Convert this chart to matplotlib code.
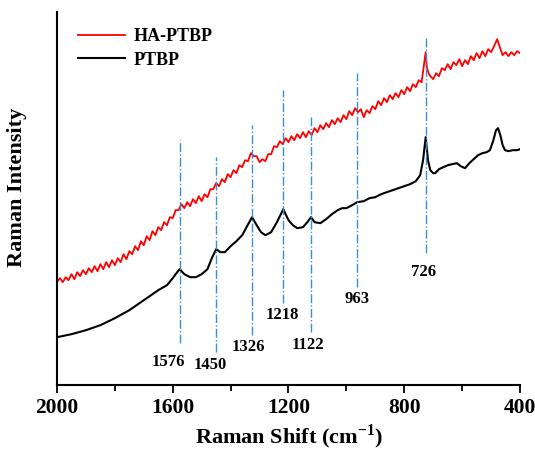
import numpy as np
import matplotlib
matplotlib.use('Agg')
import matplotlib.pyplot as plt

plt.rcParams['font.family'] = 'Liberation Serif'
plt.rcParams['font.weight'] = 'bold'
plt.rcParams['mathtext.fontset'] = 'custom'
plt.rcParams['mathtext.rm'] = 'Liberation Serif:bold'
plt.rcParams['mathtext.bf'] = 'Liberation Serif:bold'

# PTBP spectrum (black)
ptbp_shift = [2000, 1950, 1900, 1850, 1800, 1750, 1700, 1650, 1620, 1600, 1590, 1576,
              1560, 1540, 1520, 1500, 1480, 1465, 1450, 1435, 1420, 1400, 1380, 1360,
              1345, 1326, 1310, 1295, 1280, 1260, 1240, 1218, 1200, 1185, 1170, 1150,
              1135, 1122, 1110, 1090, 1070, 1050, 1030, 1015, 1000, 980, 963, 940, 920,
              900, 880, 860, 840, 820, 800, 780, 760, 745, 735, 726, 718, 710, 700, 693,
              680, 665, 649, 635, 618, 605, 590, 575, 560, 545, 530, 515, 504, 492, 483,
              476, 468, 460, 452, 440, 425, 410, 400]
ptbp_int = [48, 51, 55, 60, 67, 75, 85, 95, 100, 107, 111, 116,
            111, 108, 108, 111, 116, 127, 136, 133, 133, 139, 144, 150,
            158, 168, 160, 153, 150, 153, 163, 176, 165, 160, 157, 158,
            163, 168, 163, 162, 166, 171, 175, 177, 177, 180, 183, 184, 187,
            188, 191, 193, 195, 197, 199, 201, 204, 210, 225, 248, 225, 215, 212, 212,
            216, 218, 220, 221, 222, 219, 217, 222, 226, 230, 232, 233, 235, 245, 255,
            257, 250, 240, 235, 234, 235, 235, 236]

# HA-PTBP spectrum (red), noisy trace read point by point
ha_shift = [2000, 1990, 1980, 1970, 1960, 1950, 1940, 1930, 1920, 1910, 1900, 1890,
            1880, 1870, 1860, 1850, 1840, 1830, 1820, 1810, 1800, 1790, 1780, 1770,
            1760, 1750, 1740, 1730, 1720, 1710, 1700, 1690, 1680, 1670, 1660, 1650,
            1640, 1630, 1620, 1610, 1600, 1590, 1580, 1570, 1560, 1550, 1540, 1530,
            1520, 1510, 1500, 1490, 1480, 1470, 1460, 1450, 1440, 1430, 1420, 1410,
            1400, 1390, 1380, 1370, 1360, 1350, 1340, 1330, 1320, 1310, 1300, 1290,
            1280, 1270, 1260, 1250, 1240, 1230, 1220, 1210, 1200, 1190, 1180, 1170,
            1160, 1150, 1140, 1130, 1120, 1110, 1100, 1090, 1080, 1070, 1060, 1050,
            1040, 1030, 1020, 1010, 1000, 990, 980, 970, 960, 950, 940, 930,
            920, 910, 900, 890, 880, 870, 860, 850, 840, 830, 820, 810,
            800, 790, 780, 770, 760, 750, 740, 733, 726, 722, 716, 710,
            700, 690, 680, 670, 660, 650, 640, 630, 620, 610, 600, 590,
            580, 570, 560, 550, 540, 530, 520, 510, 500, 488, 479, 470,
            460, 450, 440, 430, 420, 410, 400]
ha_int = [103, 107, 103, 108, 105, 111, 106, 113, 109, 115, 111, 117,
          113, 119, 114, 121, 116, 123, 118, 125, 120, 127, 123, 131,
          126, 134, 131, 139, 135, 144, 140, 149, 145, 154, 150, 158,
          155, 163, 160, 168, 167, 175, 175, 181, 177, 183, 179, 186,
          182, 189, 184, 191, 188, 196, 196, 202, 199, 206, 203, 211,
          208, 215, 212, 220, 218, 225, 224, 232, 229, 229, 223, 226,
          224, 231, 231, 239, 238, 244, 241, 247, 243, 249, 245, 251,
          247, 253, 248, 254, 250, 257, 253, 260, 256, 262, 258, 265,
          261, 267, 263, 270, 266, 274, 270, 277, 273, 276, 268, 275,
          272, 279, 276, 284, 280, 287, 283, 290, 286, 292, 288, 295,
          291, 298, 294, 301, 298, 305, 303, 318, 333, 318, 312, 309,
          306, 312, 309, 317, 315, 321, 316, 323, 320, 326, 319, 325,
          321, 329, 325, 332, 327, 334, 329, 336, 333, 340, 346, 338,
          330, 333, 329, 333, 330, 334, 332]

peaks = [1576, 1450, 1326, 1218, 1122, 963, 726]
peak_labels = ['1576', '1450', '1326', '1218', '1122', '963', '726']

# line extents and label placement (layout only)
line_bottom = [42, 33, 50, 82, 53, 98, 132]
line_top = [245, 228, 260, 295, 268, 312, 347]
label_x = [1616, 1471, 1340, 1222, 1133, 963, 735]
label_y = [23, 20, 38, 70, 40, 86, 113]

fig = plt.figure(figsize=(5.35, 4.5), dpi=100)
ax = fig.add_axes([0.1065, 0.144, 0.8655, 0.829])

ax.plot(ha_shift, ha_int, color='red', lw=1.3, label='HA-PTBP')
ax.plot(ptbp_shift, ptbp_int, color='black', lw=1.5, label='PTBP')

for p, lo, hi, lab, lx, ly in zip(peaks, line_bottom, line_top, peak_labels, label_x, label_y):
    ax.plot([p, p], [lo, hi], color='#3a8fd4', lw=1.0, ls='-.')
    ax.text(lx, ly, lab, ha='center', va='center', fontsize=12, fontweight='bold')

ax.set_xlim(2000, 400)
ax.set_ylim(0, 373)
ax.set_xticks([2000, 1600, 1200, 800, 400])
ax.set_xticks([1800, 1400, 1000, 600], minor=True)
ax.set_yticks([])
ax.tick_params(axis='x', which='major', direction='out', length=6, width=1.3, labelsize=15.5)
ax.tick_params(axis='x', which='minor', direction='out', length=4, width=1.3)
for lab in ax.get_xticklabels():
    lab.set_fontweight('bold')

ax.spines['top'].set_visible(False)
ax.spines['right'].set_visible(False)
ax.spines['left'].set_linewidth(1.5)
ax.spines['bottom'].set_linewidth(1.5)

ax.set_xlabel('Raman Shift (cm$^{-1}$)', fontsize=16, fontweight='bold', labelpad=3)
ax.set_ylabel('Raman Intensity', fontsize=16, fontweight='bold')
ax.yaxis.set_label_coords(-0.065, 0.53)

ax.legend(loc='upper left', bbox_to_anchor=(0.01, 1.0), frameon=False,
          handlelength=2.6, handletextpad=0.5, labelspacing=0.35,
          prop={'weight': 'bold', 'size': 13})

fig.savefig('out.png', dpi=100)
